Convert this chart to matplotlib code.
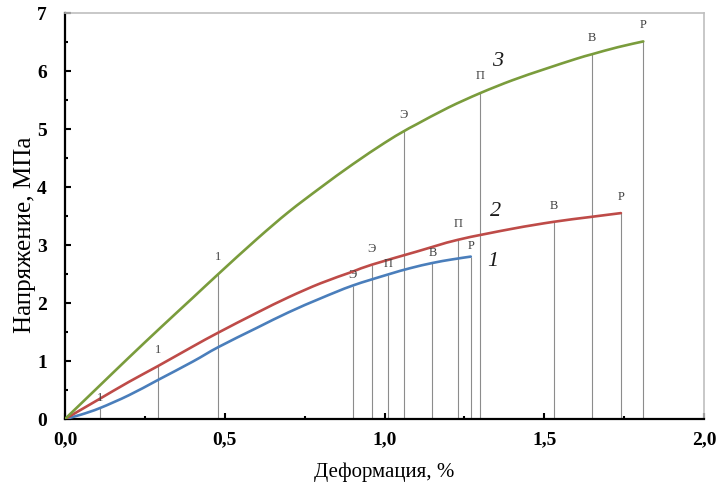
import matplotlib
matplotlib.use("Agg")
import numpy as np
import matplotlib.pyplot as plt
from matplotlib.path import Path
from matplotlib.patches import PathPatch
from matplotlib.ticker import MultipleLocator, FixedLocator, FixedFormatter

# Stress-strain curves (strain, %; stress, MPa)
strain_1 = [0.0, 0.05, 0.11, 0.20, 0.29, 0.40, 0.48, 0.60, 0.70, 0.80, 0.90, 1.01, 1.08, 1.15, 1.21, 1.27]
stress_1 = [0.0, 0.075, 0.19, 0.41, 0.67, 0.99, 1.24, 1.57, 1.84, 2.08, 2.30, 2.49, 2.60, 2.69, 2.75, 2.80]

strain_2 = [0.0, 0.10, 0.20, 0.29, 0.40, 0.48, 0.60, 0.70, 0.80, 0.90, 0.96, 1.10, 1.23, 1.40, 1.53, 1.64, 1.74]
stress_2 = [0.0, 0.32, 0.64, 0.91, 1.25, 1.49, 1.83, 2.10, 2.34, 2.54, 2.66, 2.885, 3.09, 3.28, 3.40, 3.48, 3.55]

strain_3 = [0.0, 0.10, 0.20, 0.30, 0.40, 0.48, 0.60, 0.70, 0.80, 0.90, 1.00, 1.06, 1.10, 1.20, 1.30, 1.40, 1.50, 1.60, 1.65, 1.73, 1.81]
stress_3 = [0.0, 0.53, 1.06, 1.58, 2.09, 2.50, 3.10, 3.57, 3.99, 4.39, 4.76, 4.96, 5.08, 5.37, 5.62, 5.84, 6.03, 6.21, 6.29, 6.41, 6.51]

# Characteristic points on each curve
mark_strain_1 = [0.11, 0.90, 1.01, 1.15, 1.27]
mark_stress_1 = [0.19, 2.30, 2.49, 2.69, 2.80]
mark_text_1 = ["1", "Э", "П", "В", "Р"]

mark_strain_2 = [0.29, 0.96, 1.23, 1.53, 1.74]
mark_stress_2 = [0.91, 2.66, 3.09, 3.40, 3.55]
mark_text_2 = ["1", "Э", "П", "В", "Р"]

mark_strain_3 = [0.48, 1.06, 1.30, 1.65, 1.81]
mark_stress_3 = [2.50, 4.96, 5.62, 6.29, 6.51]
mark_text_3 = ["1", "Э", "П", "В", "Р"]

x_ticks = [0.0, 0.5, 1.0, 1.5, 2.0]
x_tick_labels = ["0,0", "0,5", "1,0", "1,5", "2,0"]
y_ticks = [0, 1, 2, 3, 4, 5, 6, 7]
y_tick_labels = ["0", "1", "2", "3", "4", "5", "6", "7"]

SERIF = "Liberation Serif"
plt.rcParams["font.family"] = [SERIF, "DejaVu Serif"]


def smooth_curve(xs, ys):
    """Smoothed line through the points (Catmull-Rom segments as cubic Beziers)."""
    pts = np.column_stack([xs, ys]).astype(float)
    n = len(pts)
    verts = [pts[0]]
    codes = [Path.MOVETO]
    for i in range(n - 1):
        p0 = pts[i - 1] if i > 0 else pts[i]
        p1 = pts[i]
        p2 = pts[i + 1]
        p3 = pts[i + 2] if i + 2 < n else pts[i + 1]
        verts += [p1 + (p2 - p0) / 6.0, p2 - (p3 - p1) / 6.0, p2]
        codes += [Path.CURVE4] * 3
    return Path(verts, codes)


fig = plt.figure(figsize=(7.17, 4.82), dpi=100)
ax = fig.add_axes([65 / 717, 63 / 482, 639 / 717, 406 / 482])

colors = {1: "#4A7EBB", 2: "#BE4B48", 3: "#7A9C3C"}
series = [
    (strain_1, stress_1, mark_strain_1, mark_stress_1, mark_text_1, colors[1], 7.5),
    (strain_2, stress_2, mark_strain_2, mark_stress_2, mark_text_2, colors[2], 11.5),
    (strain_3, stress_3, mark_strain_3, mark_stress_3, mark_text_3, colors[3], 12),
]

for xs, ys, mx, my, mt, col, off in series:
    ax.vlines(mx, 0, my, colors="#8C8C8C", linewidth=0.8, zorder=1)
    ax.add_patch(PathPatch(smooth_curve(xs, ys), facecolor="none",
                           edgecolor=col, linewidth=1.9, capstyle="round",
                           joinstyle="round", zorder=3))
    for x, y, t in zip(mx, my, mt):
        ax.annotate(t, (x, y), xytext=(0, off), textcoords="offset points",
                    ha="center", va="center", fontsize=9, color="#404040",
                    family=SERIF, zorder=4)

# curve numbers
ax.text(1.355, 6.16, "3", fontsize=16, style="italic", family=SERIF,
        ha="center", va="center", color="#1a1a1a")
ax.text(1.346, 3.57, "2", fontsize=16, style="italic", family=SERIF,
        ha="center", va="center", color="#1a1a1a")
ax.text(1.34, 2.71, "1", fontsize=16, style="italic", family=SERIF,
        ha="center", va="center", color="#1a1a1a")

ax.set_xlim(0, 2.0)
ax.set_ylim(0, 7)
ax.xaxis.set_major_locator(FixedLocator(x_ticks))
ax.xaxis.set_major_formatter(FixedFormatter(x_tick_labels))
ax.yaxis.set_major_locator(FixedLocator(y_ticks))
ax.yaxis.set_major_formatter(FixedFormatter(y_tick_labels))
ax.xaxis.set_minor_locator(MultipleLocator(0.25))
ax.yaxis.set_minor_locator(MultipleLocator(0.5))

ax.tick_params(which="both", direction="in", top=False, right=False,
               color="black")
ax.tick_params(which="major", length=4, width=1.5, labelsize=14)
ax.tick_params(axis="x", which="major", pad=9)
ax.tick_params(axis="y", which="major", pad=13)
ax.tick_params(which="minor", length=2.5, width=1.5)
for lab in ax.get_xticklabels() + ax.get_yticklabels():
    lab.set_fontweight("bold")
    lab.set_family(SERIF)

for side in ("left", "bottom"):
    ax.spines[side].set_color("black")
    ax.spines[side].set_linewidth(1.6)
for side in ("top", "right"):
    ax.spines[side].set_color("#BFBFBF")
    ax.spines[side].set_linewidth(1.2)

ax.set_xlabel("Деформация, %", fontsize=15, family=SERIF, labelpad=10)
ax.set_ylabel("Напряжение, МПа", fontsize=18, family=SERIF)
ax.yaxis.set_label_coords(-0.045, 0.453)

fig.savefig("out.png", dpi=100)
